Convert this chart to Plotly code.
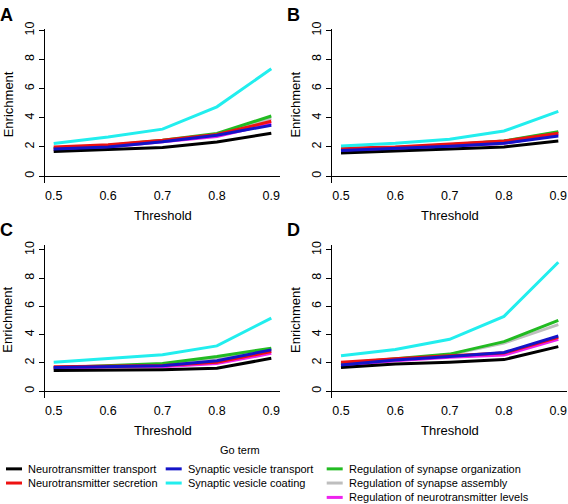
import plotly.graph_objects as go

thresholds = [0.5, 0.6, 0.7, 0.8, 0.9]
x_tick_labels = ["0.5", "0.6", "0.7", "0.8", "0.9"]
y_tick_values = [0, 2, 4, 6, 8, 10]

terms = [
    "Neurotransmitter transport",
    "Neurotransmitter secretion",
    "Synaptic vesicle transport",
    "Synaptic vesicle coating",
    "Regulation of synapse organization",
    "Regulation of synapse assembly",
    "Regulation of neurotransmitter levels",
]
colors = ["#000000", "#EE1111", "#1414C8", "#22EEEE", "#22BB22", "#BEBEBE", "#EE22EE"]

# values per panel, in the order of `terms`
panel_a = [
    [1.69, 1.80, 1.96, 2.34, 2.93],
    [2.00, 2.15, 2.45, 2.85, 3.76],
    [1.85, 2.00, 2.35, 2.80, 3.49],
    [2.23, 2.68, 3.22, 4.75, 7.36],
    [1.90, 2.10, 2.45, 2.92, 4.12],
    [1.85, 2.05, 2.40, 2.85, 3.95],
    [1.80, 2.00, 2.35, 2.72, 3.60],
]
panel_b = [
    [1.58, 1.70, 1.85, 2.00, 2.40],
    [1.90, 2.00, 2.20, 2.40, 2.93],
    [1.76, 1.90, 2.05, 2.25, 2.75],
    [2.07, 2.25, 2.52, 3.09, 4.44],
    [1.85, 1.95, 2.15, 2.40, 3.05],
    [1.80, 1.95, 2.15, 2.40, 3.00],
    [1.70, 1.85, 2.05, 2.25, 2.85],
]
panel_c = [
    [1.46, 1.50, 1.52, 1.62, 2.32],
    [1.72, 1.78, 1.82, 2.05, 2.80],
    [1.68, 1.75, 1.80, 2.15, 2.92],
    [2.04, 2.30, 2.57, 3.20, 5.17],
    [1.65, 1.80, 1.95, 2.45, 3.04],
    [1.60, 1.75, 1.90, 2.35, 3.00],
    [1.62, 1.70, 1.72, 1.95, 2.67],
]
panel_d = [
    [1.68, 1.92, 2.05, 2.23, 3.15],
    [2.04, 2.30, 2.50, 2.70, 3.80],
    [1.85, 2.20, 2.45, 2.74, 3.90],
    [2.50, 2.95, 3.67, 5.29, 9.12],
    [1.95, 2.30, 2.62, 3.50, 5.01],
    [1.90, 2.25, 2.60, 3.40, 4.71],
    [1.80, 2.15, 2.40, 2.55, 3.66],
]
panel_letters = ["A", "B", "C", "D"]
x_title = "Threshold"
y_title = "Enrichment"
legend_title = "Go term"

W, H = 568, 504
FONT = "Liberation Sans, Arial, sans-serif"

def px(x):
    return x / W

def py(y):
    return 1 - y / H

# plot-area boxes in pixels: (left, right, top, bottom), y ranges
boxes = [
    (45, 280, 21.7, 178.0, [-0.49, 10.07]),
    (332.3, 567, 21.7, 178.0, [-0.49, 10.07]),
    (45, 280, 240.7, 396.7, [-0.515, 10.35]),
    (332.3, 567, 240.7, 396.7, [-0.515, 10.35]),
]
panels = [panel_a, panel_b, panel_c, panel_d]
draw_order = [5, 4, 6, 1, 3, 0, 2]

fig = go.Figure()
annotations = []
shapes = []

for i, (vals, box) in enumerate(zip(panels, boxes)):
    l, r, t, b, yr = box
    sfx = "" if i == 0 else str(i + 1)
    for k in draw_order:
        fig.add_trace(go.Scatter(
            x=thresholds, y=vals[k], mode="lines", name=terms[k],
            line=dict(color=colors[k], width=3), showlegend=False,
            xaxis="x" + sfx, yaxis="y" + sfx, cliponaxis=False,
        ))
    fig.layout["xaxis" + sfx] = dict(
        domain=[px(l), px(r)], anchor="y" + sfx, range=[0.484, 0.916],
        tickvals=thresholds, ticktext=x_tick_labels, showgrid=False,
        zeroline=False, showline=False, ticks="", ticklabelstandoff=3,
        tickfont=dict(family=FONT, size=12.5, color="black"),
    )
    fig.layout["yaxis" + sfx] = dict(
        domain=[py(b), py(t)], anchor="x" + sfx, range=yr,
        tickvals=y_tick_values, showgrid=False, zeroline=True,
        zerolinecolor="black", zerolinewidth=1.3, showline=True,
        linecolor="black", linewidth=1.3, ticks="outside", ticklen=5,
        tickwidth=1.3, tickcolor="black", tickangle=-90,
        tickfont=dict(family=FONT, size=12.5, color="black"),
    )
    cx = (l + r) / 2
    annotations.append(dict(
        x=px(cx), y=py(b + 33), xref="paper", yref="paper", text=x_title,
        showarrow=False, xanchor="center", yanchor="middle",
        font=dict(family=FONT, size=13, color="black"),
    ))
    annotations.append(dict(
        x=px(l - 37), y=py((t + b) / 2 - 2), xref="paper", yref="paper",
        text=y_title, textangle=-90, showarrow=False, xanchor="center",
        yanchor="middle", font=dict(family=FONT, size=13, color="black"),
    ))
    annotations.append(dict(
        x=px(l - 47), y=py(t - 15), xref="paper", yref="paper",
        text="<b>" + panel_letters[i] + "</b>", showarrow=False,
        xanchor="left", yanchor="middle",
        font=dict(family=FONT, size=18, color="black"),
    ))

# legend (three columns, filled column-wise)
annotations.append(dict(
    x=px(239.5), y=py(449.5), xref="paper", yref="paper", text=legend_title,
    showarrow=False, xanchor="center", yanchor="middle",
    font=dict(family=FONT, size=11, color="black"),
))
col_x = [6, 165.7, 326.7]
row_y = [468.3, 482.7, 497.3]
col_members = [[0, 1], [2, 3], [4, 5, 6]]
for c, members in enumerate(col_members):
    for rr, k in enumerate(members):
        x0 = col_x[c]
        yy = row_y[rr]
        shapes.append(dict(
            type="line", xref="paper", yref="paper",
            x0=px(x0), x1=px(x0 + 16), y0=py(yy), y1=py(yy),
            line=dict(color=colors[k], width=3),
        ))
        annotations.append(dict(
            x=px(x0 + 20), y=py(yy), xref="paper", yref="paper",
            text=terms[k], showarrow=False, xanchor="left", yanchor="middle",
            font=dict(family=FONT, size=11, color="black"),
        ))

fig.update_layout(
    width=W, height=H, margin=dict(l=0, r=0, t=0, b=0),
    paper_bgcolor="white", plot_bgcolor="white",
    showlegend=False, annotations=annotations, shapes=shapes,
)

fig.write_html(
    "out.html",
    config={"displayModeBar": False},
    post_script="document.body.style.margin='0';document.body.style.overflow='hidden';",
)
